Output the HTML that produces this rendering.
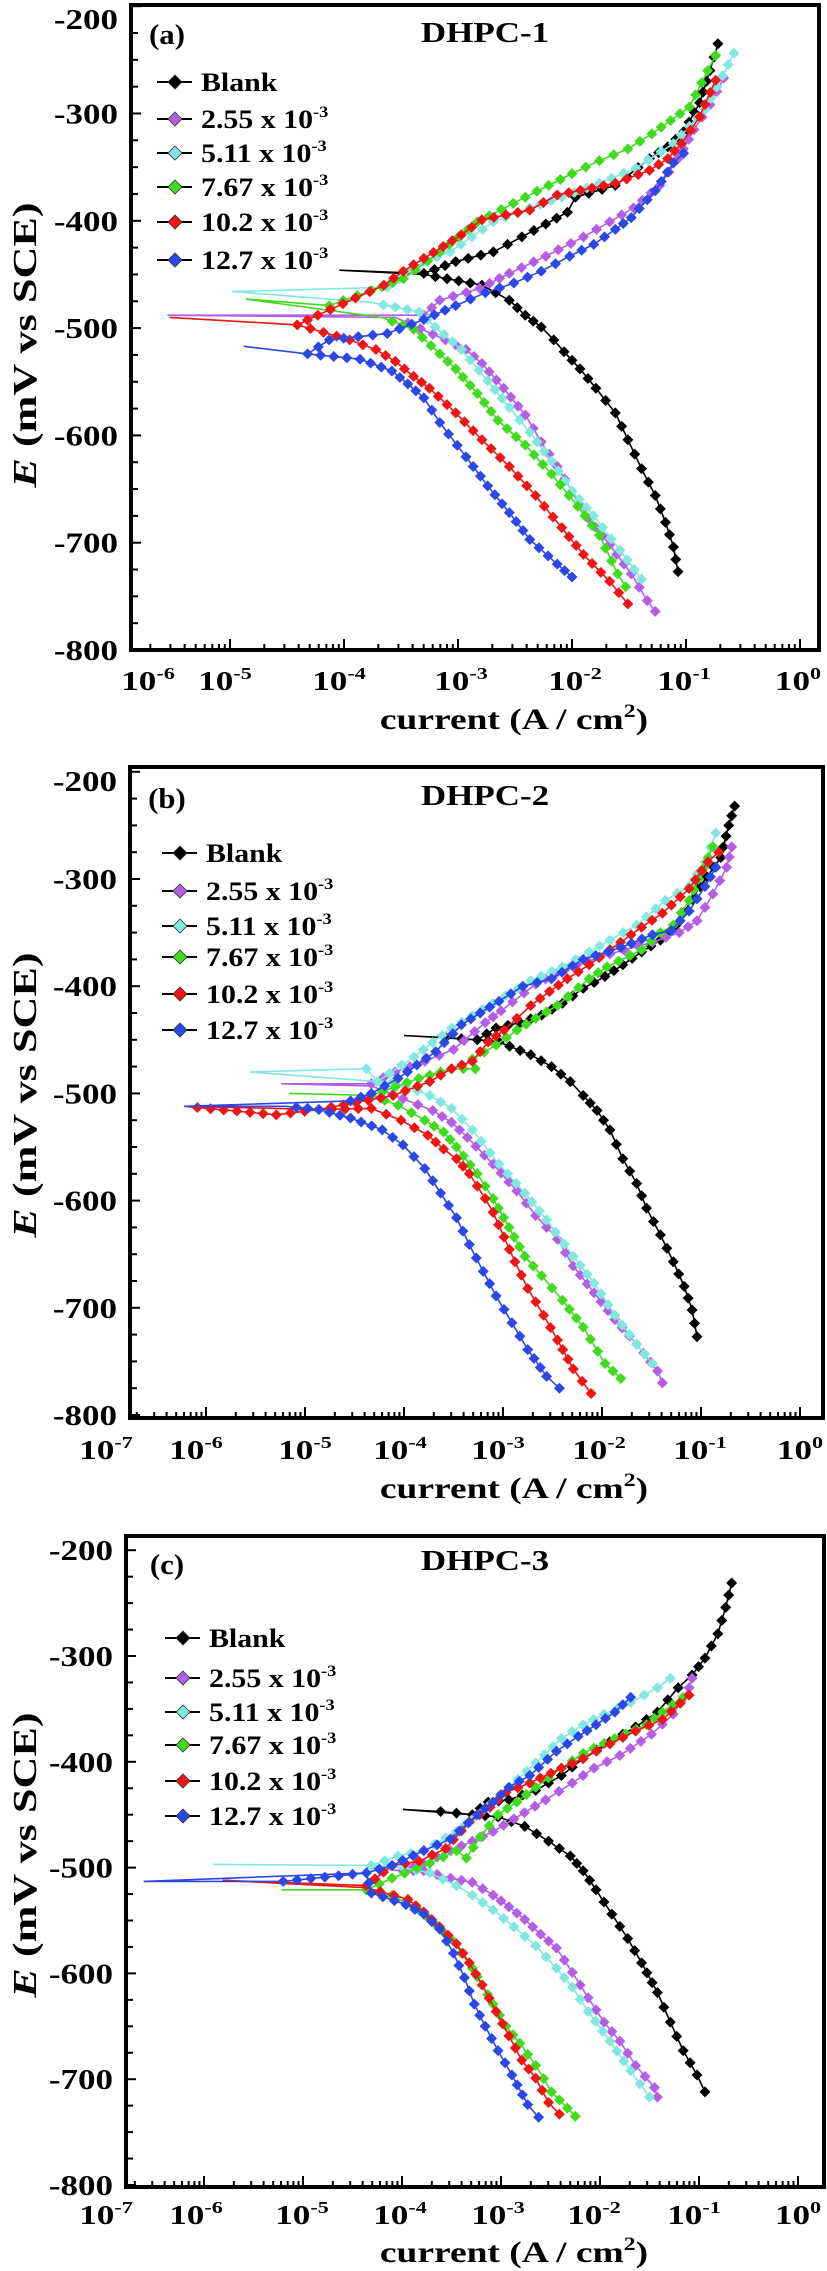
<!DOCTYPE html>
<html><head><meta charset="utf-8">
<style>
html,body{margin:0;padding:0;background:#fff;}
svg{display:block;}
text{font-family:"Liberation Serif",serif;font-weight:bold;fill:#000;}
</style></head>
<body>
<svg id="chart" width="827" height="2271" viewBox="0 0 827 2271" xmlns="http://www.w3.org/2000/svg"></svg>
<script>
const seriesNames = ["Blank","2.55 x 10","5.11 x 10","7.67 x 10","10.2 x 10","12.7 x 10"];
const seriesColors = ["#000000","#b45ee6","#80e8df","#3fdc1e","#ee1515","#2b47e6"];
const panelTitles = ["DHPC-1","DHPC-2","DHPC-3"];
const panelLetters = ["(a)","(b)","(c)"];
const yTicks = [-200,-300,-400,-500,-600,-700,-800];

// Panel A data (log10 current, mV)
const A_anoLog = [
 [-4.04,-3.30,-3.02,-2.69,-2.44,-2.23,-2.04,-1.97,-1.62,-1.32,-1.16,-1.02,-0.88,-0.79,-0.72],
 [-5.55,-3.30,-3.16,-2.81,-2.55,-2.23,-1.90,-1.67,-1.46,-1.23,-1.07,-0.93,-0.79,-0.67],
 [-4.98,-3.62,-3.30,-3.07,-2.69,-2.37,-2.09,-1.76,-1.44,-1.11,-0.83,-0.58],
 [-4.86,-4.13,-3.76,-3.48,-3.16,-2.83,-2.41,-2.0,-1.76,-1.51,-1.30,-0.97,-0.81,-0.74],
 [-5.53,-4.41,-4.23,-3.90,-3.65,-3.48,-3.30,-3.13,-2.97,-2.79,-2.37,-2.13,-1.62,-1.32,-1.16,-1.04,-0.88,-0.74],
 [-4.88,-4.32,-4.13,-3.62,-3.30,-3.02,-2.76,-2.51,-2.27,-2.02,-1.81,-1.62,-1.48,-1.27,-1.11,-1.02]];
const A_anoE = [
 [-446,-449,-438,-429,-415,-403,-392,-378,-367,-342,-331,-317,-290,-260,-235],
 [-488,-488,-474,-463,-449,-433,-415,-401,-388,-367,-342,-315,-292,-267],
 [-466,-462,-438,-429,-401,-388,-378,-365,-351,-328,-296,-244],
 [-473,-479,-465,-454,-429,-401,-378,-356,-344,-333,-319,-294,-260,-246],
 [-490,-497,-488,-472,-460,-447,-435,-424,-413,-399,-390,-376,-365,-353,-342,-328,-303,-269],
 [-517,-524,-511,-505,-492,-479,-467,-458,-447,-433,-422,-408,-397,-372,-346,-337]];
const A_catLog = [
 [-3.30,-2.79,-2.55,-2.41,-2.27,-2.16,-2.07,-1.93,-1.79,-1.62,-1.51,-1.39,-1.27,-1.18,-1.11,-1.07],
 [-3.55,-3.11,-2.93,-2.79,-2.60,-2.41,-2.27,-2.13,-2.0,-1.86,-1.67,-1.48,-1.34,-1.27],
 [-3.76,-3.34,-3.20,-2.97,-2.74,-2.55,-2.37,-2.18,-2.0,-1.81,-1.58,-1.39],
 [-3.67,-3.39,-3.16,-3.02,-2.83,-2.65,-2.41,-2.18,-1.95,-1.76,-1.60,-1.53],
 [-4.41,-3.95,-3.72,-3.55,-3.39,-3.25,-3.02,-2.79,-2.55,-2.32,-2.09,-1.90,-1.67,-1.51],
 [-4.32,-3.86,-3.58,-3.44,-3.30,-3.16,-2.93,-2.74,-2.55,-2.37,-2.13,-2.0]];
const A_catE = [
 [-450,-460,-474,-488,-499,-511,-522,-538,-556,-579,-604,-631,-656,-681,-704,-727],
 [-490,-511,-520,-533,-556,-581,-606,-629,-652,-677,-702,-729,-754,-764],
 [-476,-485,-499,-520,-549,-574,-597,-624,-652,-675,-707,-734],
 [-490,-501,-524,-538,-561,-586,-609,-636,-666,-693,-729,-741],
 [-497,-511,-520,-531,-545,-556,-579,-604,-629,-656,-686,-711,-736,-757],
 [-524,-529,-540,-552,-565,-588,-620,-647,-672,-697,-720,-732]];

// Panel B data
const B_anoLog = [
 [-4.0,-3.58,-3.26,-3.07,-2.83,-2.61,-2.40,-2.19,-1.97,-1.79,-1.60,-1.41,-1.25,-1.01,-0.80,-0.72,-0.66],
 [-5.24,-4.33,-4.09,-3.79,-3.50,-3.18,-3.02,-2.67,-2.37,-1.92,-1.49,-1.22,-1.04,-0.88,-0.74,-0.69],
 [-5.56,-4.38,-4.27,-3.90,-3.52,-3.10,-2.72,-2.40,-2.13,-1.92,-1.65,-1.36,-1.12,-0.96,-0.85],
 [-5.16,-4.33,-3.85,-3.52,-3.28,-3.31,-3.07,-2.86,-2.67,-2.45,-2.13,-1.95,-1.60,-1.41,-1.28,-1.12,-0.88],
 [-6.22,-5.29,-4.86,-4.11,-3.74,-3.52,-3.31,-3.15,-2.99,-2.86,-2.72,-2.53,-2.35,-2.13,-1.92,-1.60,-1.39,-1.12,-0.93,-0.82],
 [-6.22,-4.54,-4.33,-4.06,-3.68,-3.42,-3.23,-3.04,-2.80,-2.51,-2.19,-1.81,-1.49,-1.30,-1.12,-0.96,-0.85]];
const B_anoE = [
 [-446,-448,-450,-439,-434,-427,-416,-402,-391,-380,-368,-357,-343,-307,-280,-250,-232],
 [-491,-491,-480,-470,-459,-434,-423,-398,-384,-370,-359,-350,-339,-314,-289,-270],
 [-480,-477,-489,-466,-439,-416,-395,-382,-368,-357,-343,-320,-307,-284,-257],
 [-500,-502,-486,-477,-477,-468,-455,-441,-430,-418,-393,-382,-366,-350,-343,-320,-270],
 [-512,-520,-515,-502,-489,-477,-470,-452,-441,-430,-418,-405,-393,-380,-366,-345,-332,-309,-284,-275],
 [-512,-507,-500,-486,-461,-436,-425,-414,-400,-393,-375,-364,-352,-348,-330,-307,-289]];
const B_catLog = [
 [-3.26,-3.04,-2.72,-2.51,-2.32,-2.19,-2.05,-1.92,-1.79,-1.65,-1.55,-1.41,-1.28,-1.17,-1.09,-1.04],
 [-4.33,-4.01,-3.71,-3.52,-3.36,-3.10,-2.86,-2.67,-2.45,-2.29,-2.08,-1.87,-1.65,-1.44,-1.39],
 [-4.27,-4.11,-3.74,-3.52,-3.31,-3.04,-2.78,-2.56,-2.29,-2.08,-1.87,-1.65,-1.49],
 [-4.33,-4.06,-3.79,-3.60,-3.47,-3.26,-3.10,-2.94,-2.78,-2.61,-2.40,-2.19,-1.97,-1.81],
 [-4.86,-4.33,-4.03,-3.76,-3.60,-3.47,-3.34,-3.18,-3.10,-2.99,-2.88,-2.75,-2.59,-2.45,-2.29,-2.11],
 [-5.2,-4.86,-4.54,-4.22,-4.01,-3.79,-3.63,-3.47,-3.34,-3.20,-3.07,-2.91,-2.75,-2.56,-2.43]];
const B_catE = [
 [-450,-452,-464,-475,-489,-502,-516,-534,-561,-584,-607,-632,-657,-680,-702,-727],
 [-493,-505,-516,-527,-541,-566,-591,-614,-636,-661,-686,-711,-734,-759,-770],
 [-489,-489,-502,-514,-534,-566,-593,-618,-652,-677,-707,-734,-752],
 [-502,-511,-525,-536,-550,-575,-598,-625,-652,-670,-693,-718,-752,-766],
 [-515,-514,-525,-539,-552,-561,-575,-598,-611,-634,-657,-682,-707,-730,-757,-780],
 [-512,-515,-523,-534,-548,-570,-593,-616,-641,-666,-689,-714,-739,-764,-775]];

// Panel C data
const C_anoLog = [
 [-3.99,-3.61,-3.29,-3.13,-2.92,-2.65,-2.39,-2.17,-1.90,-1.64,-1.42,-1.21,-1.07,-0.94,-0.81,-0.73,-0.67],
 [-4.36,-3.99,-3.78,-3.51,-3.29,-3.08,-2.87,-2.55,-2.28,-2.06,-1.80,-1.48,-1.26,-1.10,-1.07],
 [-5.91,-4.31,-4.04,-3.78,-3.45,-3.19,-2.92,-2.65,-2.39,-2.17,-1.96,-1.69,-1.42,-1.29],
 [-5.22,-4.36,-4.10,-3.72,-3.45,-3.35,-3.21,-3.03,-2.84,-2.65,-2.39,-2.17,-1.85,-1.53,-1.37,-1.16],
 [-5.81,-4.36,-4.10,-3.83,-3.56,-3.32,-3.11,-2.95,-2.71,-2.39,-2.17,-1.90,-1.64,-1.37,-1.10],
 [-6.61,-5.2,-4.36,-4.10,-3.78,-3.51,-3.24,-3.08,-2.92,-2.71,-2.44,-2.22,-2.04,-1.85,-1.69]];
const C_anoE = [
 [-445,-447,-450,-438,-436,-427,-413,-397,-381,-367,-353,-330,-318,-302,-279,-254,-231],
 [-500,-503,-496,-484,-475,-466,-454,-436,-420,-406,-394,-374,-355,-330,-321],
 [-497,-498,-489,-484,-466,-447,-424,-401,-378,-365,-355,-344,-330,-321],
 [-521,-521,-510,-496,-484,-491,-471,-450,-438,-424,-406,-392,-378,-365,-353,-339],
 [-512,-517,-498,-494,-482,-457,-443,-429,-420,-406,-397,-383,-371,-360,-337],
 [-513,-513,-505,-498,-484,-473,-450,-438,-424,-413,-390,-376,-365,-353,-339]];
const C_catLog = [
 [-3.29,-3.03,-2.76,-2.52,-2.30,-2.17,-2.04,-1.88,-1.72,-1.58,-1.42,-1.29,-1.16,-1.02,-0.94],
 [-3.99,-3.78,-3.51,-3.29,-3.08,-2.92,-2.76,-2.60,-2.44,-2.28,-2.12,-1.96,-1.80,-1.64,-1.45,-1.42],
 [-4.31,-3.99,-3.72,-3.45,-3.29,-3.08,-2.87,-2.65,-2.44,-2.28,-2.12,-1.90,-1.69,-1.50],
 [-4.36,-4.10,-3.83,-3.67,-3.51,-3.40,-3.29,-3.19,-3.08,-2.95,-2.81,-2.65,-2.49,-2.25],
 [-4.36,-3.94,-3.78,-3.62,-3.45,-3.32,-3.19,-3.05,-2.92,-2.79,-2.65,-2.52,-2.41],
 [-4.36,-4.31,-3.96,-3.78,-3.62,-3.48,-3.37,-3.27,-3.16,-3.03,-2.89,-2.73,-2.62]];
const C_catE = [
 [-450,-452,-461,-475,-489,-503,-521,-544,-567,-590,-618,-646,-673,-696,-712],
 [-503,-503,-510,-514,-526,-537,-549,-563,-576,-599,-623,-646,-664,-687,-708,-717],
 [-498,-500,-505,-517,-526,-540,-556,-574,-595,-613,-636,-664,-692,-717],
 [-521,-526,-540,-553,-567,-581,-595,-611,-629,-650,-666,-687,-712,-735],
 [-519,-530,-542,-556,-572,-590,-611,-636,-659,-682,-699,-722,-733],
 [-505,-524,-535,-544,-558,-581,-604,-629,-650,-673,-696,-724,-736]];

const xLabelExpA = [-6,-5,-4,-3,-2,-1,0];
const xLabelExpBC = [-7,-6,-5,-4,-3,-2,-1,0];

const NS = "http://www.w3.org/2000/svg";
const svg = document.getElementById('chart');
function mk(tag, attrs, parent){
  const e = document.createElementNS(NS, tag);
  for (const k in attrs) e.setAttribute(k, attrs[k]);
  (parent||svg).appendChild(e);
  return e;
}
function stxt(parent, x, y, size, anchor, sx){
  return mk('text', {x:0, y:0, 'font-size':size, 'text-anchor':anchor, transform:`translate(${x},${y}) scale(${sx},1)`}, parent);
}

const panels = [
 {L:131,R:819,T:5,B:650, x0:800, dec:114, yBase:650, yPer:1.073, labX:[148,225,339,461,575,684,798], labY:690, titleY:729, legY:[82,119,153,187,222,260], legX:175, ttl:[485,42], let:[167,44], yTitle:[24,345], exps:xLabelExpA,
  anoLog:A_anoLog, anoE:A_anoE, catLog:A_catLog, catE:A_catE},
 {L:130,R:823,T:767,B:1418, x0:800, dec:99, yBase:1415, yPer:1.072, labX:[106,196,305,400,498,599,700,800], labY:1459, titleY:1498, legY:[853,891,926,957,994,1030], legX:180, ttl:[485,805], let:[167,808], yTitle:[24,1095], exps:xLabelExpBC,
  anoLog:B_anoLog, anoE:B_anoE, catLog:B_catLog, catE:B_catE},
 {L:126,R:824,T:1536,B:2187, x0:798, dec:99, yBase:2185, yPer:1.058, labX:[106,196,302,400,498,594,694,798], labY:2224, titleY:2262, legY:[1638,1678,1712,1745,1781,1816], legX:183, ttl:[485,1570], let:[167,1574], yTitle:[24,1855], exps:xLabelExpBC,
  anoLog:C_anoLog, anoE:C_anoE, catLog:C_catLog, catE:C_catE}
];

panels.forEach((p, pi) => {
  const g = mk('g', {});
  
  
  const xs = lg => p.x0 + lg * p.dec;
  const ys = E => p.yBase - (E + 800) * p.yPer;

  const clipId = 'clip' + pi;
  const cp = mk('clipPath', {id: clipId}, g);
  mk('rect', {x:p.L, y:p.T, width:p.R-p.L, height:p.B-p.T}, cp);

  const lmin = (p.L - p.x0) / p.dec, lmax = (p.R - p.x0) / p.dec;
  for (let d = Math.floor(lmin); d <= Math.ceil(lmax); d++) {
    for (let k = 1; k <= 9; k++) {
      const lg = d + Math.log10(k);
      if (lg < lmin || lg > lmax) continue;
      const x = xs(lg);
      const t = mk('line', {x1:x, x2:x, y1:p.B, y2:p.B - (k === 1 ? 11 : 6), stroke:'#000', 'stroke-width':2}, g);
      
      
    }
  }
  for (let E = -800; E <= -175; E += 25) {
    const y = ys(E);
    if (y < p.T) continue;
    const t = mk('line', {x1:p.L, x2:p.L + (E % 100 === 0 ? 10 : 7), y1:y, y2:y, stroke:'#000', 'stroke-width':2}, g);
    
    
  }
  const fr = mk('rect', {x:p.L, y:p.T, width:p.R-p.L, height:p.B-p.T, fill:'none', stroke:'#000', 'stroke-width':4}, g);
  
  

  yTicks.forEach(E => {
    const yy = Math.max(ys(E), p.T + 14);
    const t = stxt(g, p.L - 13, yy + 10, 28, 'end', 1.25);
    t.textContent = String(E);
    
    
  });
  p.exps.forEach((ex, i) => {
    const t = stxt(g, p.labX[i], p.labY, 27, 'middle', 1.3);
    t.textContent = '10';
    const s = mk('tspan', {'font-size':17, dy:-11}, t);
    s.textContent = String(ex);
    
    
  });
  const xt = stxt(g, 514, p.titleY, 30, 'middle', 1.25);
  xt.textContent = 'current (A / cm';
  const sup = mk('tspan', {'font-size':19, dy:-12}, xt); sup.textContent = '2';
  const cl = mk('tspan', {dy:12}, xt); cl.textContent = ')';
  
  
  const yt = mk('text', {x:0, y:0, 'text-anchor':'middle', 'font-size':34, transform:`translate(${p.yTitle[0]+12},${p.yTitle[1]}) rotate(-90) scale(1.3,1)`}, g);
  const it = mk('tspan', {'font-style':'italic'}, yt); it.textContent = 'E';
  const rest = mk('tspan', {}, yt); rest.textContent = ' (mV vs SCE)';
  
  
  const tt = stxt(g, p.ttl[0], p.ttl[1], 28, 'middle', 1.25);
  tt.textContent = panelTitles[pi];
  
  
  const lt = stxt(g, p.let[0], p.let[1], 28, 'middle', 1.1);
  lt.textContent = panelLetters[pi];
  
  

  const plot = mk('g', {'clip-path':`url(#${clipId})`}, g);
  for (let s = 0; s < seriesNames.length; s++) {
    const sg = mk('g', {}, plot);
    
    
    const pts = [];
    for (let i = p.catLog[s].length - 1; i >= 0; i--) pts.push([xs(p.catLog[s][i]), ys(p.catE[s][i])]);
    const nc = pts.length;
    for (let i = 0; i < p.anoLog[s].length; i++) pts.push([xs(p.anoLog[s][i]), ys(p.anoE[s][i])]);
    const pl = mk('polyline', {points: pts.map(q => q[0].toFixed(1) + ',' + q[1].toFixed(1)).join(' '), fill:'none', stroke:seriesColors[s], 'stroke-width':1.6}, sg);
    
    
    // markers placed along the drawn curve (skip the flat connector segment)
    const spacing = 13;
    for (let i = 0; i < pts.length - 1; i++) {
      if (i === nc - 1) continue;
      const a = pts[i], b = pts[i+1];
      if (i === nc && Math.abs(b[1]-a[1]) < 8) continue;
      const len = Math.hypot(b[0]-a[0], b[1]-a[1]);
      const n = Math.max(1, Math.round(len / spacing));
      for (let j = 0; j < n; j++) {
        if (i === nc && j === 0) continue;
        const t = j / n;
        const mx = a[0] + (b[0]-a[0])*t, my = a[1] + (b[1]-a[1])*t;
        const r = 5.5;
        const m = mk('polygon', {points:`${mx},${my-r} ${mx+r},${my} ${mx},${my+r} ${mx-r},${my}`, fill:seriesColors[s]}, sg);
        
        
      }
    }
    const last = pts[pts.length-1], r = 5.5;
    const m = mk('polygon', {points:`${last[0]},${last[1]-r} ${last[0]+r},${last[1]} ${last[0]},${last[1]+r} ${last[0]-r},${last[1]}`, fill:seriesColors[s]}, sg);
    
    
  }

  seriesNames.forEach((n, s) => {
    const lg = mk('g', {}, g);
    
    
    const y = p.legY[s];
    mk('line', {x1:p.legX - 18, x2:p.legX + 17, y1:y, y2:y, stroke:'#000', 'stroke-width':2}, lg);
    const r = 7;
    mk('polygon', {points:`${p.legX},${y-r} ${p.legX+r},${y} ${p.legX},${y+r} ${p.legX-r},${y}`, fill:seriesColors[s], stroke:'#333', 'stroke-width':0.8}, lg);
    const t = stxt(lg, p.legX + 26, y + 9, 26, 'start', 1.15);
    t.textContent = n;
    if (s > 0) {
      const sp = mk('tspan', {'font-size':16, dy:-11}, t);
      sp.textContent = '-3';
    }
  });
});
</script>
</body></html>
